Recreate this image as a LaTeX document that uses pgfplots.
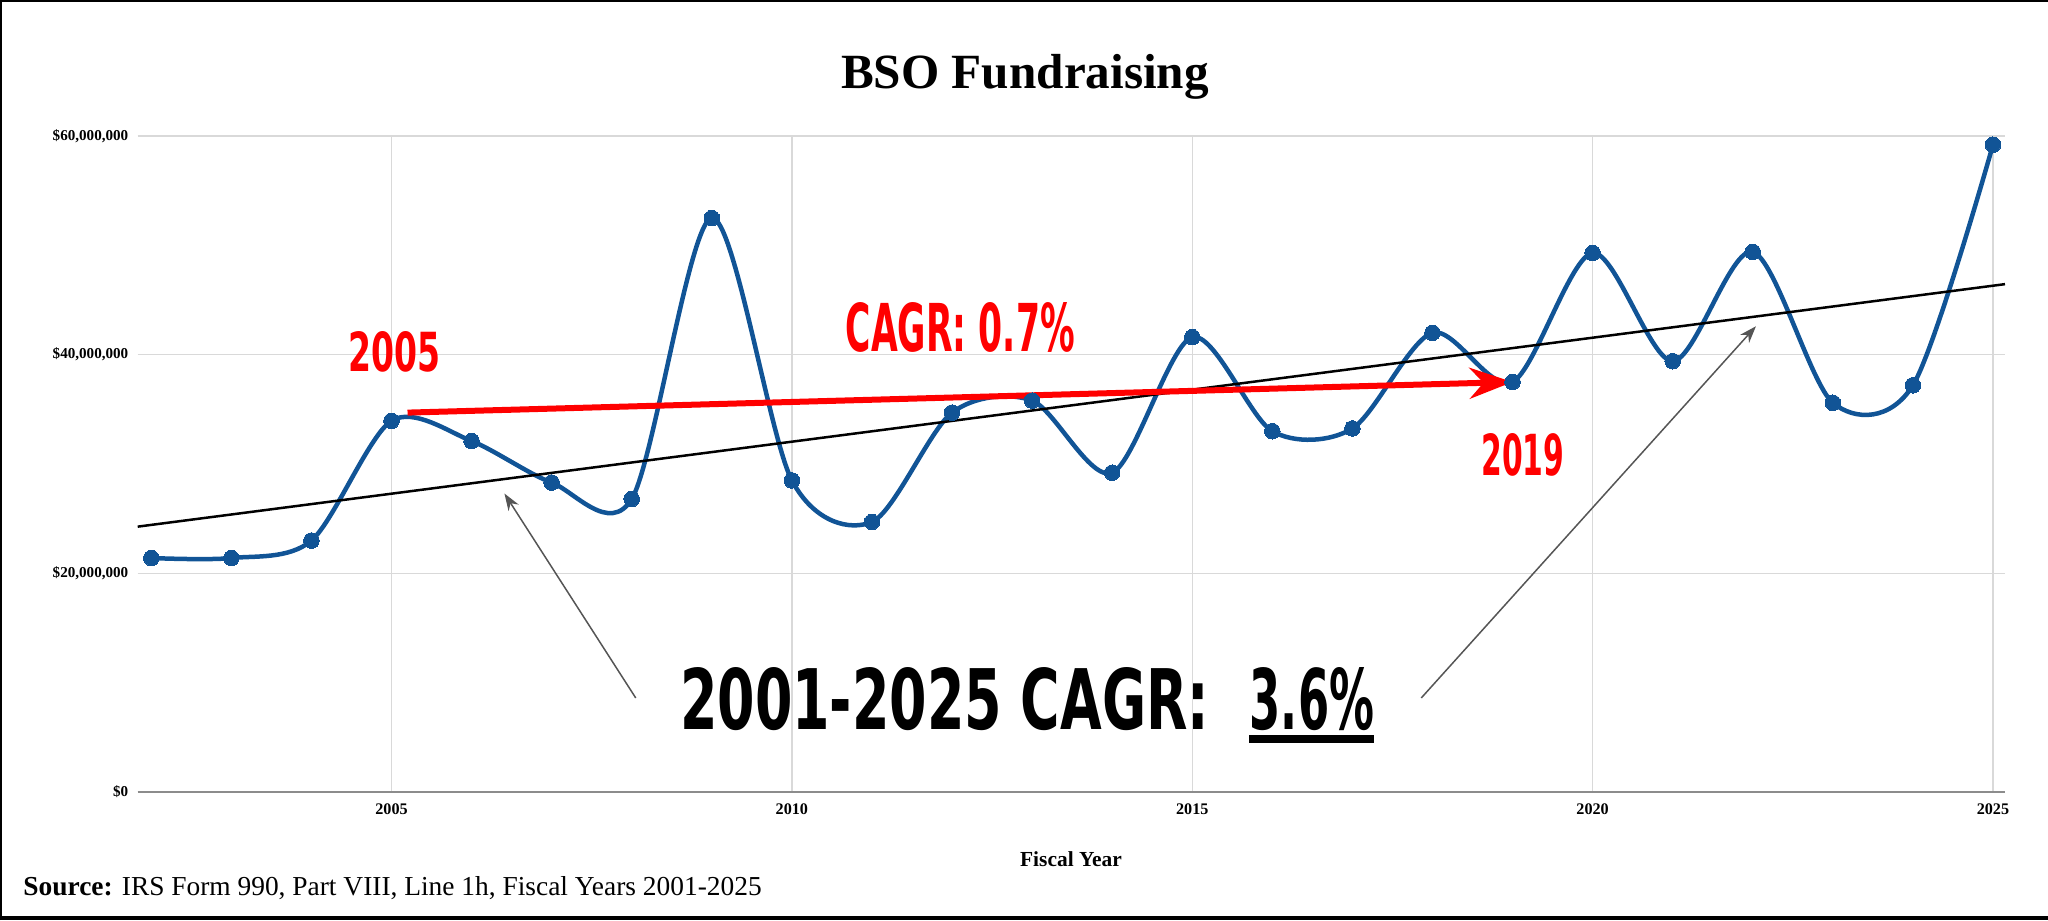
\documentclass[border=0pt]{standalone}
\usepackage{pgfplots}
\pgfplotsset{compat=1.18}
\usepackage{pgfplotstable}
\usepackage{graphicx}
\usepackage{fontspec}
\setmainfont{Liberation Serif}
\newfontfamily\hand{DejaVu Sans}
\usetikzlibrary{arrows.meta}
\definecolor{bsoblue}{RGB}{17,84,150}
\definecolor{gridgray}{RGB}{217,217,217}
\definecolor{axisgray}{RGB}{140,140,140}
\definecolor{arrowgray}{RGB}{85,85,85}

% Fundraising in millions of dollars
\pgfplotstableread{
year value
2002 21.4
2003 21.4
2004 23.0
2005 33.95
2006 32.1
2007 28.3
2008 26.8
2009 52.5
2010 28.5
2011 24.7
2012 34.7
2013 35.8
2014 29.2
2015 41.6
2016 33.0
2017 33.25
2018 42.0
2019 37.5
2020 49.3
2021 39.4
2022 49.4
2023 35.6
2024 37.2
2025 59.2
}\fundraising

\pgfplotstableread{
year value
2001.83 24.27
2025.15 46.45
}\trend

\pgfplotstableread{
year value
2005.2 34.7
2019.0 37.5
}\redarrow

\begin{document}
\begin{tikzpicture}[x=0.1mm,y=0.1mm]
\path[use as bounding box] (0,0) rectangle (2048,920);
\draw[line width=0.22mm] (0,919) -- (2048,919);
\draw[line width=0.22mm] (1,0) -- (1,920);
\draw[line width=0.32mm] (0,2) -- (2048,2);

\node[anchor=base, font=\bfseries\fontsize{14}{16}\selectfont] at (1025,831) {BSO Fundraising};

\begin{axis}[
  at={(13.77mm,12.8mm)}, anchor=south west,
  scale only axis, width=186.73mm, height=65.6mm,
  xmin=2001.83, xmax=2025.15, ymin=0, ymax=60,
  clip=false,
  axis x line*=bottom, axis y line*=left,
  x axis line style={draw=axisgray, line width=0.2mm, -},
  y axis line style={draw=none},
  major tick length=0pt,
  xtick={2005,2010,2015,2020,2025},
  xticklabels={2005,2010,2015,2020,2025},
  ytick={0,20,40,60},
  yticklabels={{\$0},{\$20,000,000},{\$40,000,000},{\$60,000,000}},
  /pgf/number format/assume math mode=true,
  xticklabel style={font=\bfseries\fontsize{4.6}{5}\selectfont, inner sep=0pt, anchor=north, yshift=-1.1mm},
  yticklabel style={font=\bfseries\fontsize{4.3}{5}\selectfont, inner sep=0pt, anchor=east, xshift=-0.87mm},
  xmajorgrids, ymajorgrids,
  grid style={draw=gridgray, line width=0.15mm},
]
\addplot[bsoblue, line width=0.45mm, smooth, tension=0.5, mark=*, mark size=0.78mm,
  mark options={fill=bsoblue, draw=bsoblue, line width=0pt}]
  table[x=year, y=value] {\fundraising};
\addplot[black, line width=0.25mm, no marks] table[x=year, y=value] {\trend};
\addplot[red, line width=0.6mm, no marks,
  -{Stealth[length=4.3mm, width=3.1mm, inset=1.4mm]}]
  table[x=year, y=value] {\redarrow};
\draw[arrowgray, line width=0.15mm, -{Stealth[length=1.7mm, width=1.2mm]}]
  (axis cs:2008.05,8.6) -- (axis cs:2006.41,27.3);
\draw[arrowgray, line width=0.15mm, -{Stealth[length=1.7mm, width=1.2mm]}]
  (axis cs:2017.86,8.6) -- (axis cs:2022.04,42.6);
\end{axis}

% handwritten annotations
\node[anchor=base west, inner sep=0pt, text=red] at (348,548)
  {\resizebox{9.2mm}{4.0mm}{\hand\bfseries 2005}};
\node[anchor=base west, inner sep=0pt, text=red] at (845,568)
  {\resizebox{22.9mm}{4.9mm}{\hand\bfseries CAGR: 0.7\%}};
\node[anchor=base west, inner sep=0pt, text=red] at (1480.6,444)
  {\resizebox{8.3mm}{4.2mm}{\hand\bfseries 2019}};
\node[anchor=base west, inner sep=0pt] at (679.4,190)
  {\resizebox{52.9mm}{6.2mm}{\hand\bfseries 2001-2025 CAGR:}};
\node[anchor=base west, inner sep=0pt] at (1249,190)
  {\resizebox{12.45mm}{6.2mm}{\hand\bfseries 3.6\%}};
\fill[black] (1249,177) rectangle (1373.5,185);

\node[anchor=base, font=\bfseries\fontsize{6.1}{7}\selectfont] at (1071,54) {Fiscal Year};
\node[anchor=base west, inner sep=0pt, font=\fontsize{7.8}{9}\selectfont] at (22.7,25)
  {\textbf{Source:} IRS Form 990, Part VIII, Line 1h, Fiscal Years 2001-2025};
\end{tikzpicture}
\end{document}
